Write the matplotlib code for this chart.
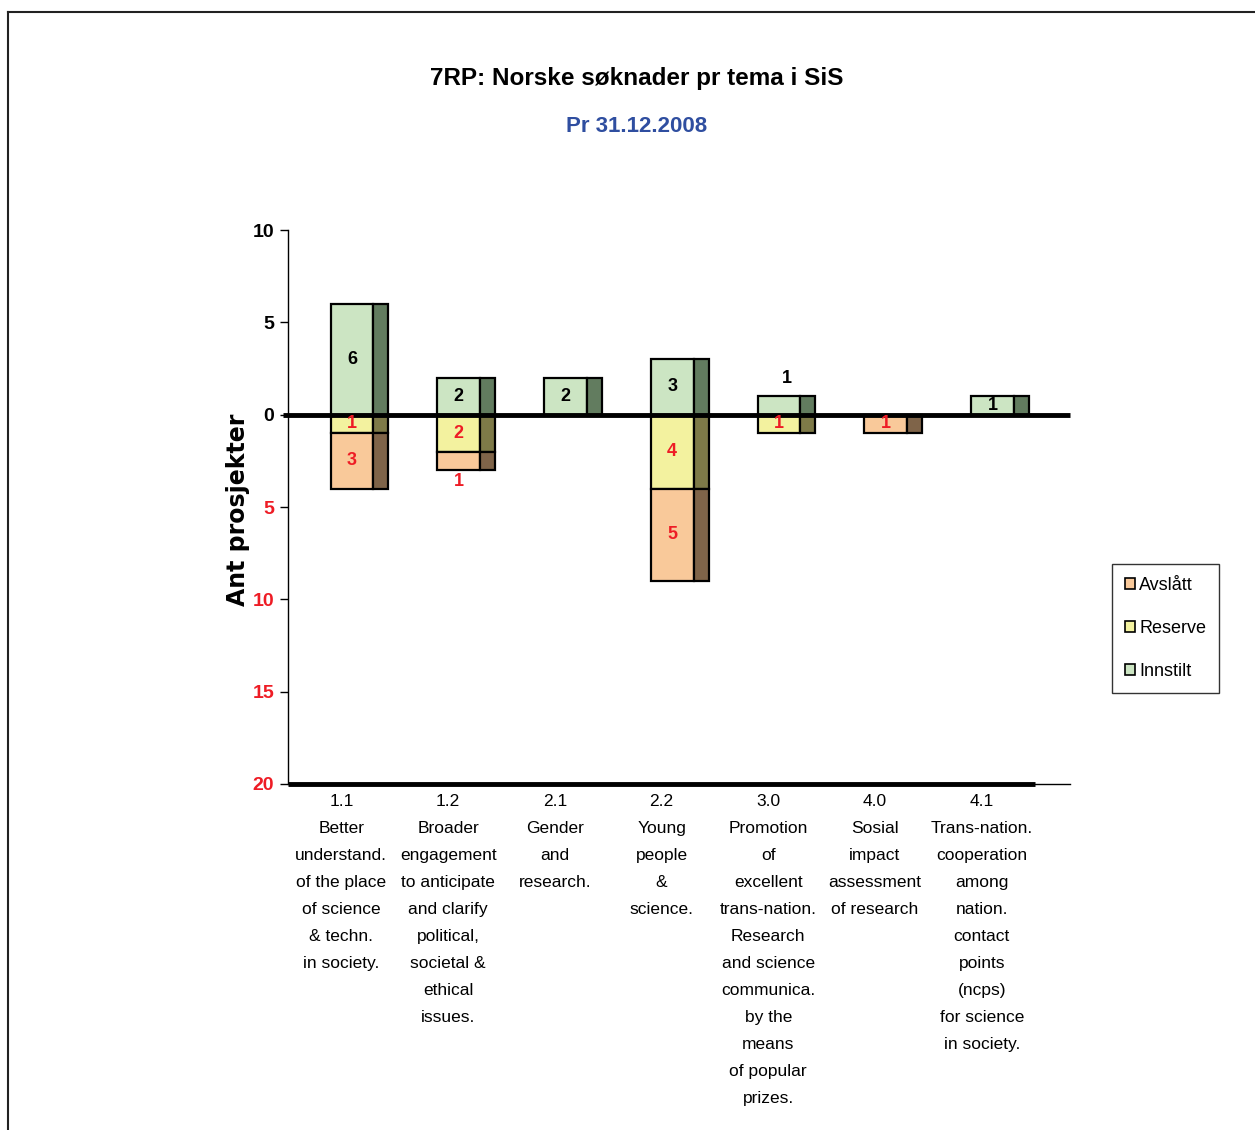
import matplotlib
matplotlib.use("Agg")
import matplotlib.pyplot as plt
from matplotlib.patches import Rectangle, Patch
from matplotlib.lines import Line2D

# --- data ---
categories = [
    "1.1\nBetter\nunderstand.\nof the place\nof science\n& techn.\nin society.",
    "1.2\nBroader\nengagement\nto anticipate\nand clarify\npolitical,\nsocietal &\nethical\nissues.",
    "2.1\nGender\nand\nresearch.",
    "2.2\nYoung\npeople\n&\nscience.",
    "3.0\nPromotion\nof\nexcellent\ntrans-nation.\nResearch\nand science\ncommunica.\nby the\nmeans\nof popular\nprizes.",
    "4.0\nSosial\nimpact\nassessment\nof research",
    "4.1\nTrans-nation.\ncooperation\namong\nnation.\ncontact\npoints\n(ncps)\nfor science\nin society.",
]
innstilt = [6, 2, 2, 3, 1, 0, 1]
reserve = [1, 2, 0, 4, 1, 0, 0]
avslatt = [3, 1, 0, 5, 0, 1, 0]

series_names = ["Avslått", "Reserve", "Innstilt"]
front_cols = {"Avslått": "#F9C99A", "Reserve": "#F3F29F", "Innstilt": "#CCE5C3"}
side_cols = {"Avslått": "#7F6449", "Reserve": "#7E7A48", "Innstilt": "#627C5F"}

yticks = [10, 5, 0, -5, -10, -15, -20]

plt.rcParams["font.family"] = ["Liberation Sans", "DejaVu Sans"]

fig = plt.figure(figsize=(12.55, 11.30), dpi=100)
ax = fig.add_axes([288 / 1255, 1 - 784 / 1130, (1070 - 288) / 1255, (784 - 230) / 1130])

front_l, front_w, side_w = -0.10, 0.40, 0.14
red = "#EE1C25"


def draw_seg(i, y0, h, name):
    ax.add_patch(Rectangle((i + front_l, y0), front_w, h, facecolor=front_cols[name],
                           edgecolor="black", lw=1.6, zorder=3))
    ax.add_patch(Rectangle((i + front_l + front_w, y0), side_w, h, facecolor=side_cols[name],
                           edgecolor="black", lw=1.6, zorder=3))


for i in range(len(categories)):
    xc = i + front_l + front_w / 2
    if innstilt[i]:
        draw_seg(i, 0, innstilt[i], "Innstilt")
        if innstilt[i] == 1 and reserve[i]:
            # label sits above the small bar
            ax.text(i + 0.17, innstilt[i] + 0.95, str(innstilt[i]), ha="center", va="center",
                    fontsize=13, fontweight="bold", color="black", zorder=5)
        else:
            ax.text(xc, innstilt[i] / 2, str(innstilt[i]), ha="center", va="center",
                    fontsize=13, fontweight="bold", color="black", zorder=5)
    if reserve[i]:
        draw_seg(i, -reserve[i], reserve[i], "Reserve")
        ax.text(xc, -reserve[i] / 2, str(reserve[i]), ha="center", va="center",
                fontsize=13, fontweight="bold", color=red, zorder=5)
    if avslatt[i]:
        base = -reserve[i]
        draw_seg(i, base - avslatt[i], avslatt[i], "Avslått")
        if avslatt[i] == 1 and reserve[i]:
            ty = base - avslatt[i] - 0.6
        else:
            ty = base - avslatt[i] / 2
        ax.text(xc, ty, str(avslatt[i]), ha="center", va="center",
                fontsize=13, fontweight="bold", color=red, zorder=5)

n = len(categories)
ax.set_xlim(-0.5, n - 0.5 + 35 / 107)
ax.set_ylim(-20, 10)

# zero line and base line
ax.plot([-0.5 - 5 / 107, n - 0.5 + 35 / 107], [0, 0], color="black", lw=3.5, zorder=4,
        clip_on=False, solid_capstyle="butt")
ax.plot([-0.5, n - 0.5], [-20, -20], color="black", lw=3.5, zorder=4, clip_on=False,
        solid_capstyle="butt")
ax.plot([n - 0.5, n - 0.5 + 35 / 107], [-20, -20], color="black", lw=1, zorder=4, clip_on=False)

for s in ["top", "right", "bottom"]:
    ax.spines[s].set_visible(False)
ax.spines["left"].set_linewidth(1.0)

ax.set_yticks(yticks)
ax.set_yticklabels([str(abs(v)) for v in yticks], fontsize=14, fontweight="bold")
for lab, v in zip(ax.get_yticklabels(), yticks):
    lab.set_color("black" if v >= 0 else red)
ax.tick_params(axis="y", length=6, width=1, pad=4)

ax.set_xticks(range(n))
ax.set_xticklabels(categories, fontsize=12.5, linespacing=2.0, va="top")
ax.tick_params(axis="x", length=0, pad=7)

fig.text(238 / 1255, 1 - 510 / 1130, "Ant prosjekter", rotation=90, ha="center", va="center",
         fontsize=17, fontweight="bold", family=["DejaVu Sans"])

fig.text(637 / 1255, 1 - 79 / 1130, "7RP: Norske søknader pr tema i SiS", ha="center",
         va="center", fontsize=17.5, fontweight="bold")
fig.text(637 / 1255, 1 - 126 / 1130, "Pr 31.12.2008", ha="center", va="center",
         fontsize=16, fontweight="bold", color="#2F4EA0")

handles = [Patch(facecolor=front_cols[nm], edgecolor="black", lw=1.2) for nm in series_names]
leg = fig.legend(handles, series_names, loc="upper left", bbox_to_anchor=(1112 / 1255, 1 - 564 / 1130),
                 fontsize=13, frameon=True, fancybox=False, edgecolor="black",
                 handlelength=0.6, handleheight=0.6, handletextpad=0.2, labelspacing=1.45,
                 borderpad=0.7, borderaxespad=0)
leg.get_frame().set_linewidth(1.0)

# outer frame
fig.add_artist(Line2D([8 / 1255, 1], [1 - 12 / 1130, 1 - 12 / 1130], color="#222222", lw=1.5))
fig.add_artist(Line2D([8 / 1255, 8 / 1255], [0, 1 - 12 / 1130], color="#222222", lw=1.5))

fig.savefig("out.png", dpi=100)
